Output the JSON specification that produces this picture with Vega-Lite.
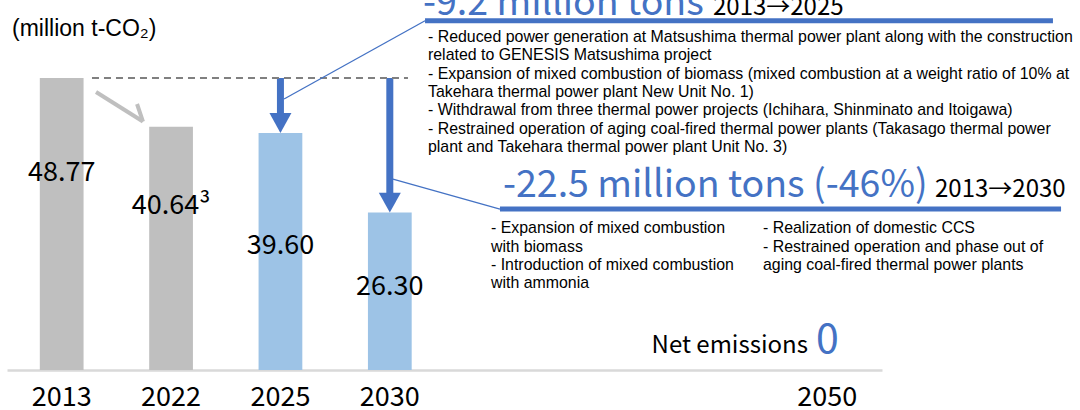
{
  "$schema": "https://vega.github.io/schema/vega-lite/v6.json",
  "width": 875,
  "height": 370,
  "autosize": {"type": "none"},
  "padding": {"left": 7, "top": 0, "right": 198, "bottom": 40},
  "background": "white",
  "config": {"view": {"stroke": null}},
  "datasets": {
    "emissions": [
      {"year": "2013", "value": 48.77, "phase": "Actual", "label": "48.77"},
      {"year": "2022", "value": 40.64, "phase": "Actual", "label": "40.64³"},
      {"year": "2025", "value": 39.60, "phase": "Target", "label": "39.60"},
      {"year": "2030", "value": 26.30, "phase": "Target", "label": "26.30"},
      {"year": "2050", "value": 0, "phase": "Target", "label": ""}
    ],
    "notes": [
      {"key": "unit", "text": "(million t-CO₂)"},
      {"key": "head2025", "text": "-9.2 million tons"},
      {"key": "span2025", "text": "2013→2025"},
      {"key": "list2025", "text": "- Reduced power generation at Matsushima thermal power plant along with the construction\nrelated to GENESIS Matsushima project\n- Expansion of mixed combustion of biomass (mixed combustion at a weight ratio of 10% at\nTakehara thermal power plant New Unit No. 1)\n- Withdrawal from three thermal power projects (Ichihara, Shinminato and Itoigawa)\n- Restrained operation of aging coal-fired thermal power plants (Takasago thermal power\nplant and Takehara thermal power plant Unit No. 3)"},
      {"key": "head2030", "text": "-22.5 million tons (-46%)"},
      {"key": "span2030", "text": "2013→2030"},
      {"key": "list2030a", "text": "- Expansion of mixed combustion\nwith biomass\n- Introduction of mixed combustion\nwith ammonia"},
      {"key": "list2030b", "text": "- Realization of domestic CCS\n- Restrained operation and phase out of\naging coal-fired thermal power plants"},
      {"key": "net", "text": "Net emissions"},
      {"key": "zero", "text": "0"}
    ]
  },
  "data": {"name": "emissions"},
  "resolve": {"scale": {"x": "independent"}},
  "layer": [
    {
      "layer": [
        {
          "mark": {"type": "bar"},
          "encoding": {
            "x": {
              "field": "year", "type": "ordinal",
              "scale": {"type": "band", "domain": ["2013", "2022", "2025", "2030", " ", "  ", "   ", "2050"], "paddingInner": 0.6, "paddingOuter": 0.3},
              "axis": {"title": null, "domainColor": "#d9d9d9", "domainWidth": 2.5, "ticks": false, "grid": false, "labelAngle": 0, "labelFont": "Noto Sans CJK JP", "labelFontSize": 27, "labelColor": "#000000", "labelPadding": 14}
            },
            "y": {"field": "value", "type": "quantitative", "scale": {"domain": [0, 61.8], "nice": false, "zero": true}, "axis": null},
            "color": {"field": "phase", "type": "nominal", "scale": {"domain": ["Actual", "Target"], "range": ["#bfbfbf", "#9dc3e6"]}, "legend": null}
          }
        },
        {
          "transform": [{"filter": "datum.phase === 'Target' && datum.value > 0"}],
          "mark": {"type": "rule", "color": "#4472c4", "strokeWidth": 7, "strokeCap": "butt", "yOffset": -12},
          "encoding": {
            "x": {"field": "year", "type": "ordinal"},
            "y": {"field": "value", "type": "quantitative"},
            "y2": {"datum": 48.77}
          }
        },
        {
          "transform": [{"filter": "datum.phase === 'Target' && datum.value > 0"}],
          "mark": {"type": "point", "shape": "M-1,-1.8L1,-1.8L0,0Z", "size": 484, "filled": true, "color": "#4472c4", "opacity": 1, "strokeWidth": 0},
          "encoding": {
            "x": {"field": "year", "type": "ordinal"},
            "y": {"field": "value", "type": "quantitative"}
          }
        },
        {
          "transform": [
            {"filter": "datum.value > 0"},
            {"calculate": "datum.value * (datum.phase === 'Actual' ? 0.675 : 0.525)", "as": "labelPos"}
          ],
          "mark": {"type": "text", "font": "Noto Sans CJK JP", "fontSize": 27, "color": "#000000", "baseline": "middle", "align": "center"},
          "encoding": {
            "x": {"field": "year", "type": "ordinal"},
            "y": {"field": "labelPos", "type": "quantitative"},
            "text": {"field": "label", "type": "nominal"}
          }
        }
      ]
    },
    {
      "layer": [
        {
          "transform": [{"filter": "datum.year === '2013'"}],
          "mark": {"type": "rule", "color": "#808080", "strokeWidth": 2, "strokeDash": [7, 5]},
          "encoding": {
            "x": {"datum": 0.777, "type": "quantitative", "scale": {"domain": [0, 8], "nice": false, "zero": false}, "axis": null},
            "x2": {"datum": 3.666},
            "y": {"field": "value", "type": "quantitative"}
          }
        },
        {
          "data": {"values": [{"part": "trend shaft"}]},
          "mark": {"type": "rule", "color": "#bfbfbf", "strokeWidth": 4, "strokeCap": "butt"},
          "encoding": {
            "x": {"datum": 0.814, "type": "quantitative", "scale": {"domain": [0, 8], "nice": false, "zero": false}, "axis": null},
            "x2": {"datum": 1.243},
            "y": {"datum": 46.43, "type": "quantitative"},
            "y2": {"datum": 41.5}
          }
        },
        {
          "data": {"values": [{"part": "trend head"}]},
          "mark": {"type": "rule", "color": "#bfbfbf", "strokeWidth": 4, "strokeCap": "butt"},
          "encoding": {
            "x": {"datum": 1.243, "type": "quantitative", "scale": {"domain": [0, 8], "nice": false, "zero": false}, "axis": null},
            "x2": {"datum": 1.189},
            "y": {"datum": 41.5, "type": "quantitative"},
            "y2": {"datum": 44.43}
          }
        },
        {
          "data": {"values": [{"part": "callout2025"}]},
          "mark": {"type": "rule", "color": "#4472c4", "strokeWidth": 1.3},
          "encoding": {
            "x": {"datum": 3.822, "type": "quantitative", "scale": {"domain": [0, 8], "nice": false, "zero": false}, "axis": null},
            "x2": {"datum": 2.533},
            "y": {"datum": 58.33, "type": "quantitative"},
            "y2": {"datum": 45.26}
          }
        },
        {
          "data": {"values": [{"part": "underline2025"}]},
          "mark": {"type": "rule", "color": "#4472c4", "strokeWidth": 5},
          "encoding": {
            "x": {"datum": 3.822, "type": "quantitative", "scale": {"domain": [0, 8], "nice": false, "zero": false}, "axis": null},
            "x2": {"datum": 9.563},
            "y": {"datum": 58.33, "type": "quantitative"}
          }
        },
        {
          "data": {"values": [{"part": "callout2030"}]},
          "mark": {"type": "rule", "color": "#4472c4", "strokeWidth": 1.3},
          "encoding": {
            "x": {"datum": 3.529, "type": "quantitative", "scale": {"domain": [0, 8], "nice": false, "zero": false}, "axis": null},
            "x2": {"datum": 4.507},
            "y": {"datum": 31.9, "type": "quantitative"},
            "y2": {"datum": 26.89}
          }
        },
        {
          "data": {"values": [{"part": "underline2030"}]},
          "mark": {"type": "rule", "color": "#4472c4", "strokeWidth": 5},
          "encoding": {
            "x": {"datum": 4.507, "type": "quantitative", "scale": {"domain": [0, 8], "nice": false, "zero": false}, "axis": null},
            "x2": {"datum": 9.637},
            "y": {"datum": 26.89, "type": "quantitative"}
          }
        },
        {
          "data": {"name": "notes"},
          "transform": [{"filter": "datum.key === 'unit'"}],
          "mark": {"type": "text", "font": "Liberation Sans", "fontSize": 23, "color": "#000000", "align": "left", "baseline": "middle"},
          "encoding": {
            "x": {"datum": 0.046, "type": "quantitative", "scale": {"domain": [0, 8], "nice": false, "zero": false}, "axis": null},
            "y": {"datum": 56.88, "type": "quantitative"},
            "text": {"field": "text", "type": "nominal"}
          }
        },
        {
          "data": {"name": "notes"},
          "transform": [{"filter": "datum.key === 'head2025'"}],
          "mark": {"type": "text", "font": "Noto Sans CJK JP", "fontSize": 37.5, "color": "#4472c4", "align": "left", "baseline": "alphabetic"},
          "encoding": {
            "x": {"datum": 3.803, "type": "quantitative", "scale": {"domain": [0, 8], "nice": false, "zero": false}, "axis": null},
            "y": {"datum": 59.29, "type": "quantitative"},
            "text": {"field": "text", "type": "nominal"}
          }
        },
        {
          "data": {"name": "notes"},
          "transform": [{"filter": "datum.key === 'span2025'"}],
          "mark": {"type": "text", "font": "Noto Sans CJK JP", "fontSize": 24, "color": "#000000", "align": "left", "baseline": "alphabetic"},
          "encoding": {
            "x": {"datum": 6.455, "type": "quantitative", "scale": {"domain": [0, 8], "nice": false, "zero": false}, "axis": null},
            "y": {"datum": 59.29, "type": "quantitative"},
            "text": {"field": "text", "type": "nominal"}
          }
        },
        {
          "data": {"name": "notes"},
          "transform": [{"filter": "datum.key === 'list2025'"}],
          "mark": {"type": "text", "font": "Liberation Sans", "fontSize": 15.9, "lineHeight": 18.3, "lineBreak": "\n", "color": "#000000", "align": "left", "baseline": "middle"},
          "encoding": {
            "x": {"datum": 3.849, "type": "quantitative", "scale": {"domain": [0, 8], "nice": false, "zero": false}, "axis": null},
            "y": {"datum": 55.62, "type": "quantitative"},
            "text": {"field": "text", "type": "nominal"}
          }
        },
        {
          "data": {"name": "notes"},
          "transform": [{"filter": "datum.key === 'head2030'"}],
          "mark": {"type": "text", "font": "Noto Sans CJK JP", "fontSize": 37.5, "color": "#4472c4", "align": "left", "baseline": "alphabetic"},
          "encoding": {
            "x": {"datum": 4.535, "type": "quantitative", "scale": {"domain": [0, 8], "nice": false, "zero": false}, "axis": null},
            "y": {"datum": 28.9, "type": "quantitative"},
            "text": {"field": "text", "type": "nominal"}
          }
        },
        {
          "data": {"name": "notes"},
          "transform": [{"filter": "datum.key === 'span2030'"}],
          "mark": {"type": "text", "font": "Noto Sans CJK JP", "fontSize": 24, "color": "#000000", "align": "left", "baseline": "alphabetic"},
          "encoding": {
            "x": {"datum": 8.485, "type": "quantitative", "scale": {"domain": [0, 8], "nice": false, "zero": false}, "axis": null},
            "y": {"datum": 28.9, "type": "quantitative"},
            "text": {"field": "text", "type": "nominal"}
          }
        },
        {
          "data": {"name": "notes"},
          "transform": [{"filter": "datum.key === 'list2030a'"}],
          "mark": {"type": "text", "font": "Liberation Sans", "fontSize": 15.9, "lineHeight": 18.3, "lineBreak": "\n", "color": "#000000", "align": "left", "baseline": "middle"},
          "encoding": {
            "x": {"datum": 4.425, "type": "quantitative", "scale": {"domain": [0, 8], "nice": false, "zero": false}, "axis": null},
            "y": {"datum": 23.67, "type": "quantitative"},
            "text": {"field": "text", "type": "nominal"}
          }
        },
        {
          "data": {"name": "notes"},
          "transform": [{"filter": "datum.key === 'list2030b'"}],
          "mark": {"type": "text", "font": "Liberation Sans", "fontSize": 15.9, "lineHeight": 18.3, "lineBreak": "\n", "color": "#000000", "align": "left", "baseline": "middle"},
          "encoding": {
            "x": {"datum": 6.912, "type": "quantitative", "scale": {"domain": [0, 8], "nice": false, "zero": false}, "axis": null},
            "y": {"datum": 23.67, "type": "quantitative"},
            "text": {"field": "text", "type": "nominal"}
          }
        },
        {
          "data": {"name": "notes"},
          "transform": [{"filter": "datum.key === 'net'"}],
          "mark": {"type": "text", "font": "Noto Sans CJK JP", "fontSize": 24, "color": "#000000", "align": "right", "baseline": "alphabetic"},
          "encoding": {
            "x": {"datum": 7.323, "type": "quantitative", "scale": {"domain": [0, 8], "nice": false, "zero": false}, "axis": null},
            "y": {"datum": 2.84, "type": "quantitative"},
            "text": {"field": "text", "type": "nominal"}
          }
        },
        {
          "data": {"name": "notes"},
          "transform": [{"filter": "datum.key === 'zero'"}],
          "mark": {"type": "text", "font": "Noto Sans CJK JP", "fontSize": 41, "color": "#4472c4", "align": "left", "baseline": "alphabetic"},
          "encoding": {
            "x": {"datum": 7.397, "type": "quantitative", "scale": {"domain": [0, 8], "nice": false, "zero": false}, "axis": null},
            "y": {"datum": 2.84, "type": "quantitative"},
            "text": {"field": "text", "type": "nominal"}
          }
        }
      ]
    }
  ]
}
